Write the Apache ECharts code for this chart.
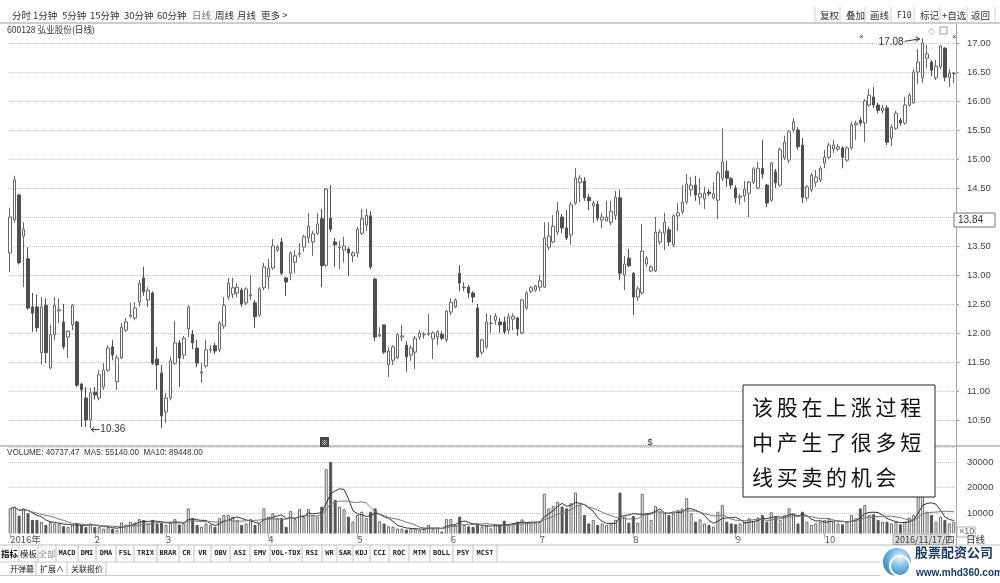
<!DOCTYPE html>
<html>
<head>
<meta charset="utf-8">
<script src="https://cdn.jsdelivr.net/npm/echarts@6/dist/echarts.min.js"></script>
<style>
html, body { margin: 0; padding: 0; background: #fff; }
#chart { width: 1000px; height: 583px; }
</style>
</head>
<body>
<div id="chart"></div>
<script>
// 日K数据 [开, 收, 低, 高]
var kline = [
  [13.38,14.00,13.05,14.16],[13.95,14.64,13.90,14.71],[14.38,13.21,13.18,14.40],[13.67,13.79,12.79,13.91],
  [13.28,12.43,12.40,13.48],[12.45,12.34,12.02,12.69],[12.45,12.09,12.02,12.66],[11.66,12.45,11.45,12.62],
  [12.48,11.66,11.48,12.60],[11.40,11.97,11.38,12.14],[11.97,12.48,11.88,12.62],[12.38,12.40,12.17,12.60],
  [12.19,11.76,11.72,12.50],[11.93,12.03,11.57,12.05],[12.14,12.48,12.05,12.50],[12.19,11.10,11.07,12.21],
  [11.12,11.02,10.38,11.14],[10.88,10.50,10.38,11.07],[10.50,10.97,10.36,11.05],[10.98,10.93,10.85,11.07],
  [10.88,11.28,10.84,11.36],[11.07,11.36,11.02,11.48],[11.36,11.74,11.33,11.79],[11.76,11.62,11.53,11.88],
  [11.16,11.57,11.02,11.62],[11.57,12.10,11.55,12.17],[12.05,12.19,12.02,12.26],[12.29,12.31,12.26,12.52],
  [12.26,12.43,12.22,12.53],[12.53,12.86,12.45,12.91],[12.95,12.71,12.64,13.14],[12.57,12.74,12.45,12.79],
  [12.69,11.48,11.45,12.72],[11.55,11.45,11.02,11.76],[11.31,10.57,10.36,11.45],[10.64,10.88,10.45,10.97],
  [10.88,11.52,10.84,11.59],[11.48,11.83,11.45,12.21],[11.83,11.57,11.07,11.88],[11.62,11.91,11.55,11.95],
  [12.07,12.45,11.93,12.48],[11.98,11.83,11.72,12.05],[11.74,11.48,11.41,11.88],[11.31,11.33,11.14,11.48],
  [11.43,11.71,11.40,11.88],[11.71,11.72,11.66,11.79],[11.78,11.69,11.64,11.83],[11.71,12.17,11.67,12.21],
  [12.12,12.48,12.07,12.62],[12.62,12.86,12.57,12.95],[12.67,12.78,12.60,12.95],[12.69,12.79,12.62,12.86],
  [12.74,12.50,12.45,12.78],[12.52,12.76,12.48,12.79],[12.64,12.66,12.57,13.00],[12.52,12.28,12.09,12.57],
  [12.31,12.76,12.28,12.79],[12.78,13.14,12.74,13.21],[12.97,13.12,12.76,13.28],[13.12,13.50,13.09,13.62],
  [13.43,13.48,13.40,13.52],[13.57,13.03,13.00,13.64],[12.95,12.88,12.64,12.97],[13.03,13.38,12.91,13.41],
  [13.22,13.33,13.03,13.43],[13.36,13.38,13.31,13.55],[13.48,13.66,13.40,13.69],[13.64,13.84,13.55,14.07],
  [13.57,13.71,13.33,13.76],[13.72,13.88,13.69,14.07],[13.97,13.16,12.79,14.14],[13.17,14.48,13.14,14.50],
  [13.98,13.79,13.74,14.55],[13.57,13.52,13.14,13.64],[13.47,13.48,13.10,13.59],[13.43,13.50,13.22,13.66],
  [13.45,13.38,12.98,13.48],[13.33,13.38,13.22,13.41],[13.38,13.79,13.31,13.83],[13.72,13.97,13.69,14.14],
  [13.86,14.03,13.76,14.14],[14.02,13.14,13.10,14.10],[12.93,11.93,11.86,12.95],[11.95,11.97,11.93,12.10],
  [12.14,11.67,11.64,12.14],[11.45,11.69,11.24,11.76],[11.53,11.76,11.45,11.79],[11.57,11.97,11.55,12.00],
  [11.93,11.95,11.86,12.14],[11.79,11.59,11.33,11.86],[11.62,11.74,11.52,11.79],[11.67,11.91,11.38,11.95],
  [11.93,12.00,11.88,12.05],[11.97,11.98,11.90,12.02],[11.98,12.00,11.95,12.33],[11.90,12.00,11.55,12.03],
  [11.93,12.02,11.79,12.05],[11.98,11.91,11.88,12.03],[11.88,12.38,11.84,12.40],[12.36,12.53,12.31,12.60],
  [12.45,12.57,12.43,12.60],[13.03,12.86,12.72,13.17],[12.78,12.79,12.72,12.88],[12.79,12.69,12.60,12.83],
  [12.69,12.62,12.52,12.72],[12.43,11.59,11.57,12.50],
  [11.67,11.88,11.62,11.90],[11.76,12.19,11.72,12.34],[12.16,12.17,12.00,12.31],[12.22,12.29,12.14,12.34],
  [12.19,12.14,12.00,12.26],[12.19,12.02,11.98,12.28],[12.05,12.28,11.98,12.34],[12.24,12.29,12.05,12.34],
  [12.26,12.07,11.95,12.28],[12.00,12.57,11.98,12.59],[12.43,12.69,12.40,12.72],[12.72,12.78,12.69,12.81],
  [12.74,12.81,12.71,12.83],[12.79,12.90,12.72,13.00],[12.79,13.64,12.78,13.91],[13.48,13.67,13.43,13.91],
  [13.57,13.84,13.55,14.03],[13.74,14.10,13.69,14.26],[14.00,13.81,13.72,14.05],[13.81,13.64,13.60,14.12],
  [13.69,14.21,13.52,14.26],[14.24,14.67,14.21,14.84],[14.59,14.67,14.26,14.72],[14.62,14.33,14.28,14.69],
  [14.34,14.28,14.12,14.40],[14.19,14.24,13.90,14.28],[14.22,13.98,13.93,14.28],[13.95,14.00,13.81,14.07],
  [13.93,14.00,13.93,14.28],[13.91,14.10,13.86,14.28],[14.03,14.34,13.95,14.45],[14.33,13.03,12.91,14.47],
  [13.00,13.19,12.74,13.33],[13.29,13.16,13.14,13.45],[13.03,12.62,12.31,13.05],[12.62,12.76,12.55,12.81],
  [12.69,13.41,12.66,13.88],[13.19,13.29,13.14,13.33],[13.07,13.14,13.05,13.17],[13.07,13.74,13.05,14.00],
  [13.57,13.74,13.52,13.79],[13.72,13.91,13.43,14.07],[13.78,13.57,13.50,13.83],[13.52,14.02,13.48,14.05],
  [14.02,14.07,13.76,14.24],[14.09,14.26,14.05,14.55],[14.26,14.57,14.22,14.74],[14.47,14.55,14.36,14.69],
  [14.55,14.38,14.28,14.71],[14.34,14.40,14.21,14.67],[14.31,14.41,14.14,14.52],[14.43,14.40,14.36,14.48],
  [14.33,14.40,14.31,14.60],[14.29,14.76,13.97,14.79],
  [14.67,14.95,14.62,15.53],[14.79,14.67,14.52,14.97],[14.66,14.55,14.48,14.69],[14.50,14.33,14.24,14.55],
  [14.34,14.36,14.21,14.40],[14.36,14.48,14.26,14.62],[14.41,14.60,14.00,14.62],[14.60,14.83,14.57,14.86],
  [14.50,14.84,14.48,14.95],[14.84,14.74,14.66,15.33],[14.55,14.24,14.17,14.57],[14.29,14.93,14.26,14.95],
  [14.78,14.59,14.50,14.83],[14.55,15.16,14.52,15.19],[15.02,15.29,14.98,15.40],[14.98,15.47,14.93,15.50],
  [15.50,15.64,15.45,15.71],[15.50,15.21,15.16,15.55],[15.24,14.34,14.24,15.36],[14.33,14.52,14.28,14.55],
  [14.47,14.72,14.43,14.76],[14.60,14.69,14.52,14.81],[14.64,14.84,14.60,14.88],[14.93,15.03,14.84,15.16],
  [15.03,15.24,15.00,15.28],[15.17,15.24,15.10,15.33],[15.17,15.21,15.14,15.26],[15.19,15.03,14.84,15.22],
  [14.98,15.19,14.95,15.22],[15.19,15.59,15.16,15.64],[15.59,15.62,15.33,15.66],[15.67,15.62,15.57,15.72],
  [15.62,16.00,15.29,16.03],[15.93,16.10,15.90,16.21],[16.07,15.93,15.88,16.24],[15.93,15.84,15.79,15.97],
  [15.83,15.88,15.78,15.93],[15.88,15.29,15.24,15.93],[15.36,15.55,15.22,15.60],[15.53,15.79,15.50,15.83],
  [15.67,15.62,15.57,15.71],[15.62,15.93,15.59,16.07],[15.93,16.10,15.90,16.14],[15.97,16.50,15.95,16.55],
  [16.50,16.67,16.29,16.90],[16.40,17.00,16.31,17.08],[16.74,16.81,16.57,16.97],[16.67,16.53,16.43,16.71],
  [16.40,16.60,16.36,16.71],[16.59,16.95,16.55,16.97],[16.91,16.41,16.34,16.93],[16.40,16.48,16.24,16.55],
  [16.47,16.48,16.31,16.50]
];

// 成交量
var volumes = [
  11800,12500,9000,11800,9900,7300,7300,6500,5300,6500,5900,5900,4800,4600,5300,6100,
  5300,4500,5900,4500,4500,3900,4500,3900,3300,6300,5500,6500,6300,7600,7300,5900,
  7300,5900,6200,5300,6100,7600,5500,5900,11800,8000,5300,4600,5900,5300,4600,8000,
  9200,9200,8600,7300,
  5300,5900,7600,5300,5900,11800,8600,9900,8000,8000,4600,10800,7600,11500,8600,11500,
  9200,8600,12500,27200,30000,15100,12500,11500,8600,6700,9200,10500,8000,10500,11800,6700,
  5900,4800,4600,3900,3900,3500,3900,3900,3300,3900,5300,3900,4200,2700,7600,7600,
  5300,8600,5300,4800,4600,5600,
  4600,5300,4000,5700,5300,7000,5300,5900,6600,7500,5900,6200,6200,6600,17500,11800,
  12700,14400,12500,11800,13800,18000,13100,9200,5900,7300,5300,5900,5300,5900,7300,18000,
  8600,6200,8800,6200,17500,9900,7300,12700,10500,9900,9200,9900,11200,11800,15800,9900,
  6600,7500,5900,5300,4600,10500,
  13100,6600,5900,5600,5900,6600,7900,6900,8200,9200,6600,10300,8600,7300,9200,11800,
  9900,5900,10500,6600,5300,5900,6600,7300,7900,6600,5900,5600,6600,9200,7900,11800,
  13100,9200,9500,7300,6600,6600,5900,6600,5600,6600,8200,9200,20000,21000,10500,9200,
  6600,8600,7300,5900,6600
];

// 月份刻度（起始交易日序号）
var monthIdx = [0, 19, 35, 58, 78, 99, 119, 140, 163, 183];
var monthLabels = ['2016年', '2', '3', '4', '5', '6', '7', '8', '9', '10'];

var days = kline.map(function (d, i) { return 'd' + i; });

function calcMA(n) {
    return volumes.map(function (v, i) {
        var s = volumes.slice(Math.max(0, i - n + 1), i + 1);
        return s.reduce(function (a, b) { return a + b; }, 0) / s.length;
    });
}

var volData = volumes.map(function (v, i) {
    var up = kline[i][1] >= kline[i][0];
    return {
        value: v,
        itemStyle: up ? { color: '#fff', borderColor: '#666', borderWidth: 1 }
                      : { color: '#555', borderColor: '#555', borderWidth: 1 }
    };
});

var CJK = '"Noto Sans CJK SC"';
var LAT = '"Liberation Sans", Arial';

function isMonth(i) { return monthIdx.indexOf(i) >= 0; }

var option = {
    animation: false,
    backgroundColor: '#fff',
    grid: [
        { left: 8, right: 44, top: 14, height: 406 },
        { left: 8, right: 44, top: 447, height: 91.5 }
    ],
    xAxis: [
        { type: 'category', data: days, gridIndex: 0, show: false, boundaryGap: true },
        {
            type: 'category', data: days, gridIndex: 1, boundaryGap: true, z: 30,
            axisLine: { show: false },
            axisTick: {
                show: true, inside: true, length: 5, alignWithLabel: true,
                interval: function (i) { return isMonth(i); },
                lineStyle: { color: '#aaa' }
            },
            axisLabel: {
                margin: -4, align: 'left',
                fontSize: 9.5, color: '#555', fontFamily: CJK,
                interval: function (i) { return isMonth(i); },
                formatter: function (v, i) { var k = monthIdx.indexOf(i); return k >= 0 ? monthLabels[k] : ''; }
            },
            splitLine: { show: false }
        }
    ],
    yAxis: [
        {
            type: 'value', gridIndex: 0, position: 'right', min: 10.5, max: 17.5, interval: 0.5,
            axisLine: { show: false },
            axisTick: { show: true, length: 3, lineStyle: { color: '#999' } },
            axisLabel: {
                showMaxLabel: false, margin: 11, fontSize: 9.5, color: '#444', fontFamily: LAT,
                formatter: function (v) { return v.toFixed(2); }
            },
            splitLine: { lineStyle: { color: '#c8c8c8', type: 'dotted', width: 1 } }
        },
        {
            type: 'value', gridIndex: 1, position: 'right', min: 0, max: 35880, interval: 10000,
            axisLine: { show: false },
            axisTick: { show: false },
            axisLabel: { showMinLabel: false, showMaxLabel: false, margin: 11, fontSize: 9.5, color: '#444', fontFamily: LAT,
                formatter: function (v) { return String(v); } },
            splitLine: { lineStyle: { color: '#c8c8c8', type: 'dotted', width: 1 } }
        }
    ],
    series: [
        {
            type: 'candlestick', xAxisIndex: 0, yAxisIndex: 0, data: kline, barWidth: 3,
            itemStyle: { color: '#fff', color0: '#4f4f4f', borderColor: '#666', borderColor0: '#4f4f4f', borderWidth: 1 }
        },
        { type: 'bar', xAxisIndex: 1, yAxisIndex: 1, data: volData, barWidth: 3 },
        {
            type: 'line', xAxisIndex: 1, yAxisIndex: 1, data: calcMA(5), symbol: 'none',
            lineStyle: { color: '#333', width: 1 }
        },
        {
            type: 'line', xAxisIndex: 1, yAxisIndex: 1, data: calcMA(10), symbol: 'none',
            lineStyle: { color: '#777', width: 1 }
        }
    ]
};

var chart = echarts.init(document.getElementById('chart'));
chart.setOption(option);

// 装饰元素
function txt(x, y, s, st, extra) {
    var style = { text: s, fill: '#333', font: '9.5px ' + CJK, align: 'left', verticalAlign: 'middle' };
    for (var k in st) style[k] = st[k];
    var e = { type: 'text', x: x, y: y, z: 45, silent: true, style: style };
    for (var k2 in extra) e[k2] = extra[k2];
    return e;
}
function line(x1, y1, x2, y2, c, w, z) {
    return { type: 'line', z: z || 40, silent: true, shape: { x1: x1, y1: y1, x2: x2, y2: y2 }, style: { stroke: c, lineWidth: w || 1 } };
}
function rect(x, y, w, h, fill, stroke, z) {
    return { type: 'rect', z: z || 10, silent: true, shape: { x: x, y: y, width: w, height: h }, style: { fill: fill || 'none', stroke: stroke || 'none', lineWidth: 1 } };
}
function poly(pts) {
    return { type: 'polyline', z: 45, silent: true, shape: { points: pts }, style: { stroke: '#333', lineWidth: 1, fill: 'none' } };
}

var g = [];
// 顶部工具条
g.push(rect(0, 0, 1000, 23, '#fff'));
g.push(line(0, 23, 1000, 23, '#bdbdbd', 1.5));
[['分时', 12], ['1分钟', 33], ['5分钟', 62], ['15分钟', 90], ['30分钟', 124], ['60分钟', 157],
 ['日线', 192], ['周线', 215], ['月线', 237], ['更多 >', 261]].forEach(function (t) {
    g.push(txt(t[1], 15.5, t[0], { fill: t[0] === '日线' ? '#777' : '#333' }));
});
[['复权', 820], ['叠加', 846], ['画线', 870], ['F10', 897], ['标记', 920], ['+自选', 942], ['返回', 971]].forEach(function (t) {
    g.push(txt(t[1], 15.5, t[0], t[0] === 'F10' ? { font: '8px "DejaVu Sans Mono"' } : {}));
});
[815, 840, 865, 891, 914, 940, 967, 995].forEach(function (x) { g.push(line(x, 7, x, 23, '#ccc', 1)); });
g.push(txt(7, 30, '600128 弘业股份(日线)', { font: '8.6px ' + CJK }));
g.push(txt(928, 32, '◇', { font: '9px ' + LAT, fill: '#999' }));
g.push(rect(940, 27, 7, 7, null, '#999', 45));
g.push(txt(859, 37, '×', { font: '8px ' + LAT }));
g.push(txt(952, 37, '×', { font: '8px ' + LAT }));

// 右侧轴线及分隔
g.push(line(956.5, 23, 956.5, 545, '#aaa', 1, 42));
g.push(line(0, 446, 1000, 446, '#c8c8c8', 2));
g.push(txt(7, 453, 'VOLUME: 40737.47  MA5: 55140.00  MA10: 89448.00', { font: '9px ' + LAT, fill: '#333' }, { scaleX: 0.9 }));

// 日期栏
g.push(rect(0, 533.5, 956, 11.5, '#fff', null, 10));
g.push(line(0, 545, 1000, 545, '#bdbdbd', 1));
g.push(rect(957, 527, 18, 10, '#fff', '#aaa', 44));
g.push(txt(959, 532, '×10', { font: '9px ' + LAT, fill: '#666' }));
g.push(rect(893, 534, 56, 10.5, '#dcdcdc', '#aaa', 44));
g.push(txt(895, 539.5, '2016/11/17/四', { font: '9px ' + CJK, fill: '#333' }));
g.push(txt(966, 539.5, '日线', { font: '9.5px ' + CJK }));

// 当前价
g.push(rect(954, 213, 41, 14, '#fff', '#777', 44));
g.push(txt(958, 220.5, '13.84', { font: '10px ' + LAT, fill: '#333' }));

// 底部指标栏
var cells = [['指标', 0], ['模板', 19], ['全部', 38], ['MACD', 56], ['DMI', 78], ['DMA', 96], ['FSL', 116],
    ['TRIX', 134], ['BRAR', 157], ['CR', 179], ['VR', 194], ['OBV', 211], ['ASI', 230], ['EMV', 250],
    ['VOL-TDX', 270], ['RSI', 302], ['WR', 322], ['SAR', 337], ['KDJ', 353], ['CCI', 370], ['ROC', 389],
    ['MTM', 409], ['BOLL', 430], ['PSY', 453], ['MCST', 473]];
cells.forEach(function (c, i) {
    var r = i < cells.length - 1 ? cells[i + 1][1] : 497;
    g.push(line(r, 545, r, 562, '#c0c0c0', 1));
    var cjk = /[\u4e00-\u9fa5]/.test(c[0]);
    g.push(txt((c[1] + r) / 2, 553.5, c[0], {
        align: 'center',
        font: cjk ? (c[0] === '指标' ? 'bold ' : '') + '8.5px ' + CJK : 'bold 7px "DejaVu Sans Mono"',
        fill: c[0] === '全部' ? '#888' : (c[0] === '指标' ? '#000' : '#222')
    }));
});
g.push(line(0, 562, 1000, 562, '#c8c8c8', 1));
[['开弹幕', 10, 36], ['扩展∧', 40, 67], ['关联报价', 71, 106]].forEach(function (c) {
    g.push(line(c[2], 562, c[2], 575, '#c0c0c0', 1));
    g.push(txt(c[1], 568.5, c[0], { font: '8px ' + CJK, fill: '#222' }));
});
g.push(line(0, 575.5, 1000, 575.5, '#c8c8c8', 1));

// logo
g.push(rect(880, 546, 120, 37, '#fff', null, 46));
g.push({ type: 'circle', z: 47, silent: true, shape: { cx: 897, cy: 562, r: 14 },
    style: { fill: new echarts.graphic.RadialGradient(0.6, 0.35, 0.8, [{ offset: 0, color: '#eaf5fc' }, { offset: 0.5, color: '#6db3e3' }, { offset: 1, color: '#1f6fb0' }]) } });
g.push({ type: 'circle', z: 48, silent: true, shape: { cx: 900, cy: 566, r: 10 },
    style: { fill: 'none', stroke: '#fff', lineWidth: 2 } });
g.push(txt(915, 552, '股票配资公司', { font: 'bold 13px ' + CJK, fill: '#14365e' }, { z: 48 }));
g.push(txt(916, 573, 'www.mhd360.com', { font: 'bold 10px ' + LAT, fill: '#14365e' }, { z: 48 }));

// 小图标
g.push(rect(320, 437, 9, 10, '#444', null, 44));
g.push(txt(324.5, 442, '※', { align: 'center', font: '7px ' + CJK, fill: '#fff' }));
g.push(txt(650, 443, '$', { align: 'center', font: '9px ' + LAT, fill: '#333' }));

// 注释框
g.push(rect(743, 385, 192, 112, '#fff', '#222', 50));
[['该股在上涨过程', 407], ['中产生了很多短', 442], ['线买卖的机会', 477]].forEach(function (l) {
    l[0].split('').forEach(function (ch, j) {
        g.push(txt(752 + j * 24.7, l[1], ch, { font: '21px ' + CJK, fill: '#111' }, { z: 51 }));
    });
});

// 最高/最低价标注
var hiIdx = 0, loIdx = 0;
kline.forEach(function (d, i) {
    if (d[3] > kline[hiIdx][3]) hiIdx = i;
    if (d[2] < kline[loIdx][2]) loIdx = i;
});
var pHi = chart.convertToPixel({ gridIndex: 0 }, [hiIdx, kline[hiIdx][3]]);
var pLo = chart.convertToPixel({ gridIndex: 0 }, [loIdx, kline[loIdx][2]]);
g.push(txt(pHi[0] - 19, pHi[1] + 4, kline[hiIdx][3].toFixed(2), { align: 'right', font: '10px ' + LAT }));
g.push(poly([[pHi[0] - 18, pHi[1] + 3], [pHi[0] - 3, pHi[1] + 0.5]]));
g.push(poly([[pHi[0] - 7, pHi[1] - 1.5], [pHi[0] - 3, pHi[1] + 0.5], [pHi[0] - 7, pHi[1] + 3]]));
g.push(poly([[pLo[0] + 1, pLo[1] + 1.5], [pLo[0] + 9, pLo[1] + 1.5]]));
g.push(poly([[pLo[0] + 4, pLo[1] - 1], [pLo[0] + 1, pLo[1] + 1.5], [pLo[0] + 4, pLo[1] + 4]]));
g.push(txt(pLo[0] + 10, pLo[1] + 1.5, kline[loIdx][2].toFixed(2), { font: '10px ' + LAT }));

chart.setOption({ graphic: { elements: g } });
</script>
</body>
</html>
